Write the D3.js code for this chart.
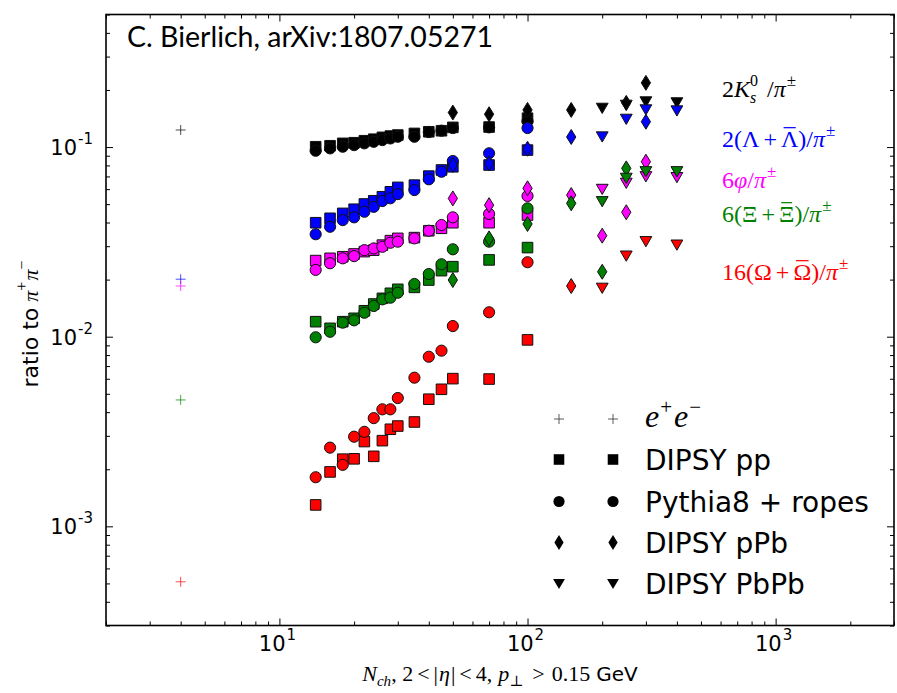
<!DOCTYPE html>
<html><head><meta charset="utf-8">
<script src="https://cdn.jsdelivr.net/npm/d3@7"></script>
<style>body{margin:0;background:#fff}</style>
</head><body><svg id="c" width="897" height="693" xmlns="http://www.w3.org/2000/svg"></svg>
<script>
// ---------------- data ----------------
const speciesColors = ["#000000", "#0000ff", "#ff00ff", "#008000", "#ff0000"];

// e+e- reference values (one per species)
const eeX = 4;
const eeValues = [0.123, 0.0201, 0.0185, 0.00464, 0.00051];

// DIPSY pp (squares) and Pythia8 + ropes (circles)
const ppX = [14, 16, 18, 20, 22, 24, 26, 28, 30, 35, 40, 45, 50, 70, 100];
const ppK0     = [0.1004, 0.1016, 0.1046, 0.1054, 0.108, 0.110, 0.1125, 0.1143, 0.1157, 0.118, 0.1204, 0.1219, 0.127, 0.1275, 0.142];
const ropesK0  = [0.0956, 0.0984, 0.1004, 0.1024, 0.1046, 0.1066, 0.1088, 0.111, 0.1133, 0.1133, 0.120, 0.122, 0.126, 0.127, 0.137];
const ppLambda    = [0.0399, 0.0421, 0.0447, 0.0470, 0.0501, 0.0521, 0.0547, 0.0581, 0.0613, 0.0630, 0.0703, 0.0757, 0.0787, 0.0804, 0.0964];
const ropesLambda = [0.0347, 0.0380, 0.0412, 0.0426, 0.0456, 0.0484, 0.0519, 0.0537, 0.0565, 0.0593, 0.0676, 0.0741, 0.0844, 0.0927, 0.126];
const ppPhi    = [0.0252, 0.0259, 0.0264, 0.0273, 0.0281, 0.0286, 0.0304, 0.0321, 0.0330, 0.0333, 0.0362, 0.0373, 0.0399, 0.0399, 0.0438];
const ropesPhi = [0.0225, 0.0244, 0.0259, 0.0266, 0.0286, 0.0292, 0.0298, 0.0313, 0.0317, 0.0330, 0.0362, 0.0388, 0.0426, 0.0444, 0.0552];
const ppXi    = [0.0120, 0.01107, 0.0120, 0.0125, 0.0137, 0.01487, 0.01593, 0.01694, 0.01778, 0.0182, 0.0199, 0.0223, 0.0234, 0.0254, 0.0295];
const ropesXi = [0.00993, 0.01062, 0.01186, 0.0122, 0.01338, 0.01452, 0.01574, 0.01606, 0.01706, 0.01897, 0.0214, 0.0241, 0.0289, 0.0317, 0.0475];
const ppOmega    = [0.001297, 0.001936, 0.00226, 0.00227, 0.00280, 0.00234, 0.00283, 0.00325, 0.00338, 0.00355, 0.00468, 0.00528, 0.00601, 0.00598, 0.00962];
const ropesOmega = [0.001815, 0.0026, 0.00211, 0.00297, 0.00315, 0.00372, 0.00414, 0.00414, 0.00475, 0.00608, 0.00784, 0.00844, 0.01138, 0.01345, 0.0247];

// DIPSY pPb (diamonds)
const pPbX = [50, 70, 100, 150, 200, 250, 300];
const pPbK0     = [0.152, 0.149, 0.157, 0.157, null, 0.171, 0.218];
const pPbLambda = [0.0804, 0.082, 0.098, 0.113, null, null, 0.136];
const pPbPhi    = [0.0536, 0.0494, 0.0606, 0.0558, 0.0341, 0.0453, 0.0837];
const pPbXi     = [0.0199, 0.033, 0.0393, 0.0505, 0.0220, 0.0772, null];
const pPbOmega  = [null, null, null, 0.0185, null, null, null];

// DIPSY PbPb (down triangles)
const PbPbX = [200, 250, 300, 400];
const PbPbK0     = [0.160, 0.166, 0.173, 0.171];
const PbPbLambda = [0.113, 0.140, 0.157, 0.155];
const PbPbPhi    = [0.0598, 0.0644, 0.0697, 0.0690];
const PbPbXi     = [0.0515, 0.0684, 0.0741, 0.0741];
const PbPbOmega  = [0.0180, 0.0266, 0.0317, 0.0304];

// ticks
const xMajor = [10, 100, 1000];
const xMajorExp = ["1", "2", "3"];
const yMajor = [0.001, 0.01, 0.1];
const yMajorExp = ["-3", "-2", "-1"];

const legendLabels = ["DIPSY pp", "Pythia8 + ropes", "DIPSY pPb", "DIPSY PbPb"];

// ---------------- drawing ----------------
const svg = d3.select("#c");
const X0 = 106, X1 = 894, Y0 = 14.5, Y1 = 625.5;
const x = d3.scaleLog().domain([2, 3000]).range([X0, X1]);
const y = d3.scaleLog().domain([3e-4, 0.5]).range([Y1, Y0]);

const SERIF = "'Liberation Serif', 'DejaVu Serif', serif";
const SANS = "'DejaVu Sans', sans-serif";

function mathLine(parent, items, opt) {
  const g = parent.append("g").attr("fill", opt.fill || "#000");
  let cx = 0, lastStart = 0;
  for (const it of items) {
    if (it.gap) cx += it.gap;
    const start = it.stack ? lastStart : cx;
    const fs = it.s || opt.s;
    const t = g.append("text").attr("x", start).attr("y", it.dy || 0)
      .attr("font-family", it.f || opt.f).attr("font-size", fs)
      .attr("font-style", it.it ? "italic" : "normal").text(it.t);
    const w = t.node().getComputedTextLength();
    if (it.bar) g.append("rect").attr("x", start + w * 0.15).attr("width", w * 0.7)
      .attr("y", (it.dy || 0) - fs * 0.83).attr("height", 1.2);
    lastStart = start;
    cx = Math.max(cx, start + w);
  }
  let shift = 0;
  if (opt.anchor === "end") shift = -cx; else if (opt.anchor === "middle") shift = -cx / 2;
  g.attr("transform", `translate(${opt.x},${opt.y}) rotate(${opt.rotate || 0}) translate(${shift},0)`);
  return cx;
}

// axes ticks (inward, on all four sides)
const minorX = x.ticks().filter(v => !xMajor.includes(v));
const minorY = y.ticks().filter(v => !yMajor.some(m => Math.abs(m - v) / m < 1e-6));
function styleAxis(g) { g.select(".domain").remove(); g.selectAll(".tick line").attr("stroke", "#000").attr("stroke-width", 1); }
svg.append("g").attr("transform", `translate(0,${Y1})`).call(d3.axisBottom(x).tickValues(xMajor).tickSize(-7).tickFormat("")).call(styleAxis);
svg.append("g").attr("transform", `translate(0,${Y1})`).call(d3.axisBottom(x).tickValues(minorX).tickSize(-4).tickFormat("")).call(styleAxis);
svg.append("g").attr("transform", `translate(0,${Y0})`).call(d3.axisTop(x).tickValues(xMajor).tickSize(-7).tickFormat("")).call(styleAxis);
svg.append("g").attr("transform", `translate(0,${Y0})`).call(d3.axisTop(x).tickValues(minorX).tickSize(-4).tickFormat("")).call(styleAxis);
svg.append("g").attr("transform", `translate(${X0},0)`).call(d3.axisLeft(y).tickValues(yMajor).tickSize(-7).tickFormat("")).call(styleAxis);
svg.append("g").attr("transform", `translate(${X0},0)`).call(d3.axisLeft(y).tickValues(minorY).tickSize(-4).tickFormat("")).call(styleAxis);
svg.append("g").attr("transform", `translate(${X1},0)`).call(d3.axisRight(y).tickValues(yMajor).tickSize(-7).tickFormat("")).call(styleAxis);
svg.append("g").attr("transform", `translate(${X1},0)`).call(d3.axisRight(y).tickValues(minorY).tickSize(-4).tickFormat("")).call(styleAxis);

svg.append("rect").attr("x", X0).attr("y", Y0).attr("width", X1 - X0).attr("height", Y1 - Y0)
  .attr("fill", "none").attr("stroke", "#000").attr("stroke-width", 1.6);

// tick labels
xMajor.forEach((v, i) => {
  mathLine(svg, [{ t: "10" }, { t: xMajorExp[i], s: 15, dy: -11, gap: 1 }],
    { x: x(v) - 2, y: 651, s: 21, f: SANS, anchor: "middle" });
});
yMajor.forEach((v, i) => {
  mathLine(svg, [{ t: "10" }, { t: yMajorExp[i], s: 15, dy: -11, gap: 1 }],
    { x: 93, y: y(v) + 8, s: 21, f: SANS, anchor: "end" });
});

// axis labels
mathLine(svg, [
  { t: "N", it: true }, { t: "ch", it: true, s: 15, dy: 5 },
  { t: ", 2", gap: 0 }, { t: "<", gap: 4 }, { t: "|", gap: 4 }, { t: "η", it: true, gap: 1 }, { t: "|", gap: 1 }, { t: "<", gap: 4 }, { t: "4,", gap: 4 },
  { t: "p", it: true, gap: 6 }, { t: "⊥", s: 15, dy: 5 }, { t: ">", gap: 9 }, { t: "0.15", gap: 7 },
  { t: "GeV", f: SANS, s: 20, gap: 6 }
], { x: 500, y: 681, s: 22, f: SERIF, anchor: "middle" });

mathLine(svg, [
  { t: "ratio to", f: SANS }, { t: "π", it: true, f: SERIF, gap: 6, s: 22 }, { t: "+", f: SERIF, s: 16, dy: -11 },
  { t: "π", it: true, f: SERIF, s: 22, gap: 1 }, { t: "−", f: SERIF, s: 16, dy: -11 }
], { x: 38, y: 324, s: 22, f: SANS, anchor: "middle", rotate: -90 });

// title
const title = svg.append("text").attr("x", 127).attr("y", 47).attr("font-family", "Lato, 'Open Sans', sans-serif")
  .attr("font-size", 28).attr("fill", "#000").text("C. Bierlich, arXiv:1807.05271");
{
  const w = title.node().getComputedTextLength();
  title.attr("font-size", 28 * 366 / w);
}

// species labels
const SL = 24;
const SUP = { s: 17, dy: -11 };
const speciesLabelItems = [
  [{ t: "2" }, { t: "K", it: true }, { t: "0", s: 16, dy: -11 }, { t: "s", it: true, s: 16, dy: 6, stack: true }, { t: "/", gap: 9 }, { t: "π", it: true }, { t: "±", ...SUP, gap: 1 }],
  [{ t: "2(" }, { t: "Λ" }, { t: "+", gap: 4 }, { t: "Λ", bar: true, gap: 4 }, { t: ")/" }, { t: "π", it: true }, { t: "±", ...SUP, gap: 1 }],
  [{ t: "6" }, { t: "φ", it: true }, { t: "/" }, { t: "π", it: true }, { t: "±", ...SUP, gap: 1 }],
  [{ t: "6(" }, { t: "Ξ" }, { t: "+", gap: 4 }, { t: "Ξ", bar: true, gap: 4 }, { t: ")/" }, { t: "π", it: true }, { t: "±", ...SUP, gap: 1 }],
  [{ t: "16(" }, { t: "Ω" }, { t: "+", gap: 4 }, { t: "Ω", bar: true, gap: 4 }, { t: ")/" }, { t: "π", it: true }, { t: "±", ...SUP, gap: 1 }]
];
const speciesLabelY = [97, 147, 188, 222, 280];
speciesLabelItems.forEach((items, i) => {
  mathLine(svg, items, { x: 722, y: speciesLabelY[i], s: SL, f: SERIF, fill: speciesColors[i] });
});

// markers
const diamondType = { draw(ctx, size) { const h = Math.sqrt(size) * 0.95, w = h * 0.62; ctx.moveTo(0, -h); ctx.lineTo(w, 0); ctx.lineTo(0, h); ctx.lineTo(-w, 0); ctx.closePath(); } };
const triDown = { draw(ctx, size) { const s = Math.sqrt(size) * 1.5; const hh = s * Math.sqrt(3) / 2; ctx.moveTo(-s / 2, -hh / 2); ctx.lineTo(s / 2, -hh / 2); ctx.lineTo(0, hh / 2); ctx.closePath(); } };
const shapes = {
  square: d3.symbol(d3.symbolSquare, 112)(),
  circle: d3.symbol(d3.symbolCircle, 98)(),
  diamond: d3.symbol(diamondType, 62)(),
  tri: d3.symbol(triDown, 62)()
};

const marks = svg.append("g");
// e+e- crosses
eeValues.forEach((v, i) => {
  marks.append("path").attr("d", "M-5,0H5M0,-5V5").attr("transform", `translate(${x(eeX)},${y(v)})`)
    .attr("stroke", speciesColors[i]).attr("stroke-opacity", 0.7).attr("stroke-width", 1).attr("fill", "none");
});

const generators = [
  { xs: ppX, shape: "square", series: [ppK0, ppLambda, ppPhi, ppXi, ppOmega] },
  { xs: ppX, shape: "circle", series: [ropesK0, ropesLambda, ropesPhi, ropesXi, ropesOmega] },
  { xs: pPbX, shape: "diamond", series: [pPbK0, pPbLambda, pPbPhi, pPbXi, pPbOmega] },
  { xs: PbPbX, shape: "tri", series: [PbPbK0, PbPbLambda, PbPbPhi, PbPbXi, PbPbOmega] }
];
generators.forEach(gen => {
  gen.series.forEach((vals, si) => {
    const pts = gen.xs.map((xv, k) => [xv, vals[k]]).filter(p => p[1] != null);
    marks.selectAll(null).data(pts).enter().append("path")
      .attr("d", shapes[gen.shape])
      .attr("transform", p => `translate(${x(p[0])},${y(p[1])})`)
      .attr("fill", speciesColors[si]).attr("stroke", "#111").attr("stroke-width", 1);
  });
});

// legend
const legX = [559, 613], legRowY = [419, 459.5, 501.5, 542.5, 584], legTextX = 645;
legX.forEach(lx => {
  svg.append("path").attr("d", "M-5,0H5M0,-5V5").attr("transform", `translate(${lx},${legRowY[0]})`)
    .attr("stroke", "#333").attr("stroke-opacity", 0.8).attr("fill", "none");
});
mathLine(svg, [{ t: "e", it: true }, { t: "+", s: 21, dy: -13, gap: 1 }, { t: "e", it: true, gap: 2 }, { t: "−", s: 21, dy: -13, gap: 1 }],
  { x: legTextX, y: legRowY[0] + 8, s: 32, f: SERIF, fill: "#000" });
["square", "circle", "diamond", "tri"].forEach((sh, i) => {
  legX.forEach(lx => {
    svg.append("path").attr("d", shapes[sh]).attr("transform", `translate(${lx},${legRowY[i + 1]})`).attr("fill", "#000");
  });
  svg.append("text").attr("x", legTextX).attr("y", legRowY[i + 1] + 10).attr("font-family", SANS)
    .attr("font-size", 28).attr("fill", "#000").text(legendLabels[i]);
});
</script>
</body></html>
